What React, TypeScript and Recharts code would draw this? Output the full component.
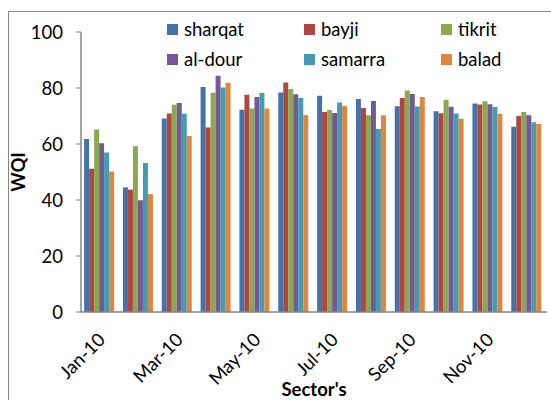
import React from "react";
import { BarChart, Bar, XAxis, YAxis, Legend } from "recharts";

// months shown on the category axis
const months = [
  "Jan-10", "Feb-10", "Mar-10", "Apr-10", "May-10", "Jun-10",
  "Jul-10", "Aug-10", "Sep-10", "Oct-10", "Nov-10", "Dec-10",
];

// WQI per station
const sharqat = [61.8, 44.5, 69.1, 80.4, 72.2, 78.4, 77.2, 76.1, 73.5, 71.7, 74.5, 66.2];
const bayji = [51.2, 43.7, 70.9, 65.9, 77.6, 82.0, 71.4, 72.9, 76.4, 71.0, 74.1, 70.0];
const tikrit = [65.2, 59.2, 74.0, 78.3, 72.7, 79.6, 72.1, 70.3, 79.1, 75.8, 75.3, 71.4];
const alDour = [60.3, 39.9, 74.6, 84.4, 76.8, 77.8, 71.1, 75.4, 77.9, 73.3, 74.2, 70.3];
const samarra = [57.0, 53.2, 70.8, 80.2, 78.2, 76.4, 74.8, 65.4, 73.4, 70.9, 73.2, 67.8];
const balad = [50.2, 42.1, 62.9, 81.9, 72.7, 70.4, 73.6, 70.3, 76.8, 69.0, 70.8, 67.1];

const yTicks = [0, 20, 40, 60, 80, 100];
const boundaryTicks = [0, 2, 4, 6, 8, 10, 12];

const series = [
  { key: "sharqat", color: "#4672AA" },
  { key: "bayji", color: "#AE4642" },
  { key: "tikrit", color: "#8CA850" },
  { key: "al-dour", color: "#735A94" },
  { key: "samarra", color: "#449BB2" },
  { key: "balad", color: "#DE8640" },
];

const data = months.map((m, i) => ({
  month: m,
  sharqat: sharqat[i],
  bayji: bayji[i],
  tikrit: tikrit[i],
  "al-dour": alDour[i],
  samarra: samarra[i],
  balad: balad[i],
}));

const FONT = "Lato, 'Open Sans', sans-serif";
const FS = 18.5;
const AXIS = "#868686";

const MonthTick = (props: any) => {
  const { x, y, payload } = props;
  return (
    <g transform={`translate(${x + 6},${y + 29})`}>
      <text
        x={0}
        y={0}
        textAnchor="end"
        transform="rotate(-45)"
        fontSize={FS}
        fontFamily={FONT}
        fill="#000"
      >
        {payload.value}
      </text>
    </g>
  );
};

// legend laid out in 3 columns x 2 rows like the original
const LegendGrid = () => {
  const cols = [167, 304, 441];
  const rows = [29, 59];
  return (
    <div style={{ position: "relative", width: 551, height: 75 }}>
      {series.map((s, i) => (
        <div
          key={s.key}
          style={{
            position: "absolute",
            left: cols[i % 3],
            top: rows[Math.floor(i / 3)] - 12,
            display: "flex",
            alignItems: "center",
            height: 24,
            fontFamily: FONT,
            fontSize: FS,
            color: "#000",
            whiteSpace: "nowrap",
          }}
        >
          <span
            style={{
              width: 11,
              height: 11,
              background: s.color,
              display: "inline-block",
              marginRight: 6,
            }}
          />
          {s.key}
        </div>
      ))}
    </div>
  );
};

export default function App() {
  return (
    <div style={{ position: "absolute", left: 0, top: 0, width: 551, height: 400, overflow: "hidden" }}>
      <div
        style={{
          position: "absolute",
          left: 8,
          top: 11,
          width: 600,
          height: 450,
          border: `1px solid ${AXIS}`,
        }}
      />
      <BarChart
        width={551}
        height={400}
        data={data}
        margin={{ top: 32, right: 4, bottom: 0, left: 0 }}
        barCategoryGap="8%"
        barGap={0}
      >
        <XAxis
          xAxisId="grid"
          type="number"
          domain={[0, 12]}
          ticks={boundaryTicks}
          tick={false}
          tickSize={5}
          axisLine={false}
          tickLine={{ stroke: AXIS }}
          height={0}
        />
        <XAxis
          xAxisId="cat"
          dataKey="month"
          interval={1}
          tickLine={false}
          tickSize={0}
          tickMargin={0}
          axisLine={{ stroke: AXIS, strokeWidth: 1.5 }}
          tick={<MonthTick />}
          height={88}
          label={{
            value: "Sector's",
            position: "insideBottom",
            offset: 4,
            style: { fontFamily: FONT, fontSize: FS, fontWeight: 700, fill: "#000" },
          }}
        />
        <YAxis
          domain={[0, 100]}
          ticks={yTicks}
          width={81}
          tickSize={5}
          tickMargin={13}
          axisLine={{ stroke: AXIS, strokeWidth: 1.5 }}
          tickLine={{ stroke: AXIS }}
          tick={{ fontFamily: FONT, fontSize: FS, fill: "#000" }}
          label={{
            value: "WQI",
            angle: -90,
            position: "insideLeft",
            offset: 18,
            style: { fontFamily: FONT, fontSize: FS, fontWeight: 700, fill: "#000", textAnchor: "middle" },
          }}
        />
        <Legend
          verticalAlign="top"
          content={<LegendGrid />}
          wrapperStyle={{ position: "absolute", left: 0, top: 0, width: 551, height: 0 }}
        />
        {series.map((s) => (
          <Bar
            key={s.key}
            xAxisId="cat"
            dataKey={s.key}
            fill={s.color}
            isAnimationActive={false}
          />
        ))}
      </BarChart>
    </div>
  );
}
